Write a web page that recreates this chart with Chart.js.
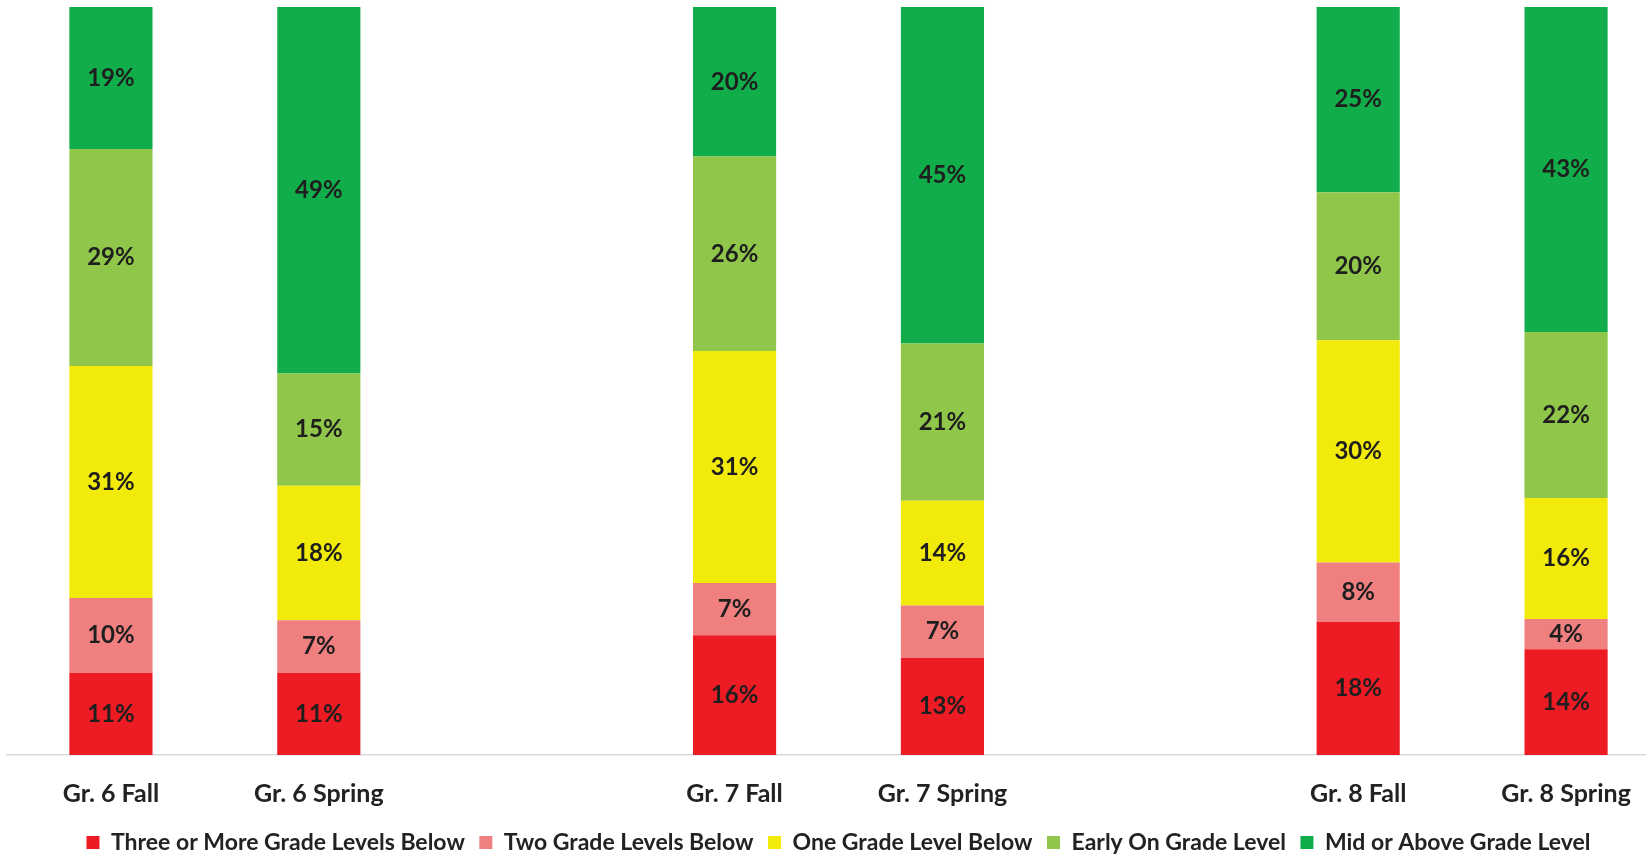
<!DOCTYPE html>
<html>
<head>
<meta charset="utf-8">
<script src="https://cdn.jsdelivr.net/npm/chart.js@4/dist/chart.umd.min.js"></script>
<style>
  html, body { margin: 0; padding: 0; background: #ffffff; overflow: hidden; }
  #wrap { position: absolute; left: 0; top: 0; width: 1688px; height: 856px; }
</style>
</head>
<body>
<div id="wrap"><canvas id="c"></canvas></div>
<script>
// Columns (empty strings leave a gap between grades)
const categories = ["Gr. 6 Fall", "Gr. 6 Spring", "", "Gr. 7 Fall", "Gr. 7 Spring", "", "Gr. 8 Fall", "Gr. 8 Spring"];

// Percent of students in each placement band
const threeOrMoreBelow = [11, 11, null, 16, 13, null, 18, 14];
const twoBelow         = [10,  7, null,  7,  7, null,  8,  4];
const oneBelow         = [31, 18, null, 31, 14, null, 30, 16];
const earlyOnGrade     = [29, 15, null, 26, 21, null, 20, 22];
const midOrAbove       = [19, 49, null, 20, 45, null, 25, 43];

const seriesNames = ["Three or More Grade Levels Below", "Two Grade Levels Below", "One Grade Level Below", "Early On Grade Level", "Mid or Above Grade Level"];
const seriesColors = ["#ED1C24", "#F07F7F", "#F2EA0A", "#90C74A", "#12AD4B"];
const seriesValues = [threeOrMoreBelow, twoBelow, oneBelow, earlyOnGrade, midOrAbove];

// 100% stacked: each column is scaled to its own total
const totals = categories.map((_, i) => seriesValues.reduce((s, arr) => s + (arr[i] || 0), 0));

const FONT = "Lato, 'Open Sans', sans-serif";

const datasets = seriesValues.map((vals, k) => ({
  label: seriesNames[k],
  data: vals.map((v, i) => v == null ? null : v / totals[i] * 100),
  raw: vals,
  backgroundColor: seriesColors[k],
  borderWidth: 0,
  barPercentage: 0.4,
  categoryPercentage: 1.0
}));

// Writes each segment's percentage in its middle
const segmentLabels = {
  id: 'segmentLabels',
  afterDatasetsDraw(chart) {
    const ctx = chart.ctx;
    ctx.save();
    ctx.font = "bold 24px " + FONT;
    ctx.fillStyle = "#1e1e1e";
    ctx.textAlign = "center";
    ctx.textBaseline = "middle";
    chart.data.datasets.forEach((ds, di) => {
      const meta = chart.getDatasetMeta(di);
      meta.data.forEach((bar, i) => {
        const v = ds.raw[i];
        if (v == null) return;
        const p = bar.getCenterPoint();
        ctx.fillText(v + "%", p.x, p.y);
      });
    });
    ctx.restore();
  }
};

new Chart(document.getElementById('c'), {
  type: 'bar',
  data: { labels: categories, datasets },
  options: {
    responsive: true,
    maintainAspectRatio: false,
    animation: false,
    layout: { padding: { left: 7, right: 18, top: 7, bottom: -8 } },
    plugins: {
      legend: {
        position: 'bottom',
        labels: {
          boxWidth: 13,
          boxHeight: 13,
          padding: 14.5,
          color: "#222222",
          font: { family: FONT, size: 23, weight: 'bold' }
        }
      },
      tooltip: { enabled: false }
    },
    scales: {
      x: {
        stacked: true,
        grid: { display: false, drawTicks: false },
        border: { display: true, color: "#d9d9d9", width: 1.5 },
        afterFit(scale) { scale.height -= 16.5; },
        ticks: {
          padding: 24,
          color: "#222222",
          maxRotation: 0,
          autoSkip: false,
          font: { family: FONT, size: 25, weight: 'bold' }
        }
      },
      y: {
        stacked: true,
        display: false,
        min: 0,
        max: 100
      }
    }
  },
  plugins: [segmentLabels]
});
</script>
</body>
</html>
